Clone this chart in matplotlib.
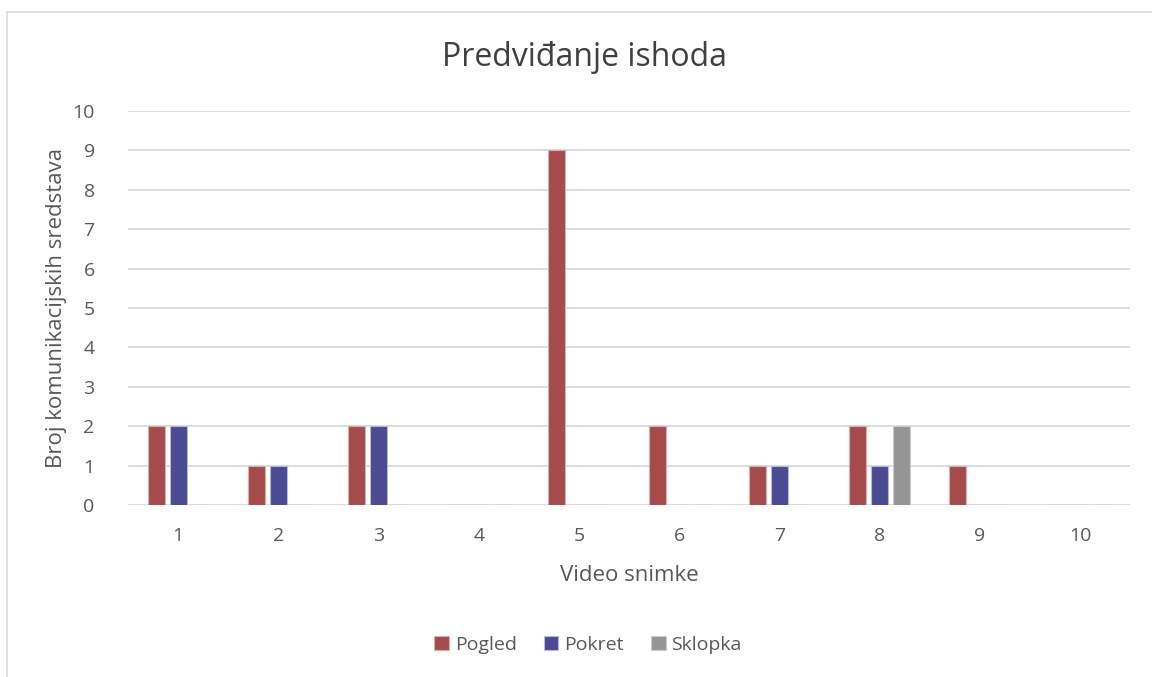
import matplotlib

matplotlib.use("Agg")
import matplotlib.pyplot as plt
import numpy as np
from matplotlib.patches import Rectangle

plt.rcParams["font.family"] = ["Open Sans", "DejaVu Sans"]

videos = ["1", "2", "3", "4", "5", "6", "7", "8", "9", "10"]
pogled = [2, 1, 2, 0, 9, 2, 1, 2, 1, 0]
pokret = [2, 1, 2, 0, 0, 0, 1, 1, 0, 0]
sklopka = [0, 0, 0, 0, 0, 0, 0, 2, 0, 0]
series_names = ["Pogled", "Pokret", "Sklopka"]

COLORS = ["#a64b4b", "#4b4b93", "#959595"]
EDGES = ["#d9b0b0", "#b8b8dc", "#cccccc"]
TEXT = "#595959"

W, H = 1152, 677
fig = plt.figure(figsize=(W / 100, H / 100), dpi=100)
ax = fig.add_axes([128 / W, 1 - 505 / H, (1130 - 128) / W, (505 - 111) / H])

x = np.arange(len(videos))
bw, off = 0.17, 0.22
for k, vals in enumerate([pogled, pokret, sklopka]):
    ax.bar(x + (k - 1) * off, vals, width=bw, color=COLORS[k], edgecolor=EDGES[k],
           linewidth=0.8, label=series_names[k], zorder=3)

ax.set_xlim(-0.5, len(videos) - 0.5)
ax.set_ylim(0, 10)
ax.set_yticks(range(0, 11))
ax.set_xticks(x)
ax.set_xticklabels(videos)
ax.tick_params(length=0, labelsize=14, colors=TEXT, pad=16)
ax.tick_params(axis="y", pad=24)
ax.grid(axis="y", color="#d9d9d9", linewidth=1.3, zorder=0)
for s in ax.spines.values():
    s.set_visible(False)

ax.set_xlabel("Video snimke", fontsize=16, color=TEXT, labelpad=14)
ax.set_ylabel("Broj komunikacijskih sredstava", fontsize=16, color=TEXT, labelpad=4)
fig.text(585 / W, 1 - 57 / H, "Predviđanje ishoda", ha="center", va="center",
         fontsize=23, color="#404040")

fig.legend(loc="center", bbox_to_anchor=(588 / W, 1 - 645 / H), ncol=3, frameon=False,
           fontsize=14, handlelength=0.75, handleheight=0.75, handletextpad=0.3,
           columnspacing=1.4, labelcolor=TEXT)

fig.patches.append(Rectangle((7 / W, -0.1), 1.2, 1 - 12 / H + 0.1,
                             transform=fig.transFigure, fill=False,
                             edgecolor="#d9d9d9", linewidth=1.2))

fig.savefig("out.png", dpi=100)
